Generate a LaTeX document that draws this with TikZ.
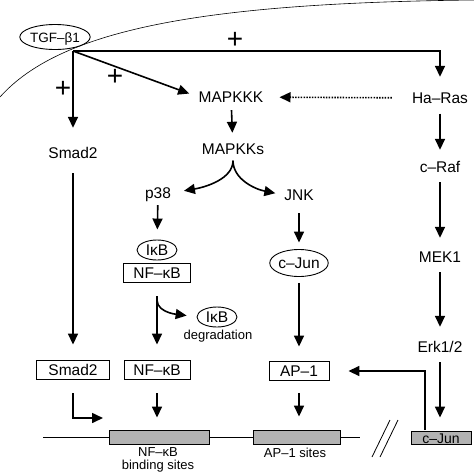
\documentclass[tikz,border=0pt]{standalone}
\usepackage{fontspec}
\setmainfont{Liberation Sans}
\usetikzlibrary{arrows.meta,shapes.geometric}

\begin{document}
\begin{tikzpicture}[x=1pt,y=-1pt,
  lbl/.style={inner sep=0pt,text height=11pt,text depth=0pt,font=\fontsize{15.5}{15.5}\selectfont},
  sml/.style={inner sep=0pt,align=center,font=\fontsize{13}{13}\selectfont},
  oval/.style={lbl,draw,ellipse,line width=0.9pt,minimum width=40pt,minimum height=20pt},
  box/.style={lbl,draw,line width=0.9pt,minimum height=19pt},
  site/.style={draw,fill=black!30,line width=0.9pt,minimum height=14pt,inner sep=0pt},
  arr/.style={line width=1.6pt,-{Triangle[length=11pt,width=10pt]}},
  dotarr/.style={arr,dash pattern=on 1.5pt off 1.3pt},
  plus/.style={inner sep=0pt,font=\fontsize{28}{28}\selectfont}]
\useasboundingbox (0,0) rectangle (474,472);
% membrane
\draw[line width=0.6pt] (0,97) .. controls (60,30) and (200,3) .. (474,0);
\node[oval,fill=white,minimum width=64pt,minimum height=25pt,font=\fontsize{13.5}{13.5}\selectfont] (tgf) at (55,37) {TGF–β1};
\coordinate (j) at (73,51);
% labels
\node[lbl] (smad) at (73,153) {Smad2};
\node[lbl] (mapkkk) at (231,97) {MAPKKK};
\node[lbl] (ras) at (440,98) {Ha–Ras};
\node[lbl] (mapkks) at (233,149) {MAPKKs};
\node[lbl] (p38) at (158,193) {p38};
\node[lbl] (jnk) at (299,195) {JNK};
\node[lbl] (craf) at (440,167) {c–Raf};
\node[lbl] (mek) at (440,257) {MEK1};
\node[lbl] (erk) at (440,347) {Erk1/2};
\node[oval] (ikb) at (157,250) {IκB};
\node[box,minimum width=67pt] (nfkb) at (157,273) {NF–κB};
\node[oval] (ikbdeg) at (217,317) {IκB};
\node[sml] (degr) at (218,336) {degradation};
\node[oval,minimum width=58pt,minimum height=27pt] (cjun) at (299,263) {c–Jun};
\node[box,minimum width=73pt] (smadbox) at (73,370) {Smad2};
\node[box,minimum width=66pt] (nfbox) at (157,370) {NF–κB};
\node[box,minimum width=60pt] (apbox) at (299,371) {AP–1};
% gene
\coordinate (g0) at (43,437);
\coordinate (g1) at (360,437);
\draw[line width=0.8pt] (g0) -- (g1);
\node[site,minimum width=100pt] (nfsite) at (159,437) {};
\node[site,minimum width=87pt] (apsite) at (297,437) {};
\node[site,lbl,text height=10pt,minimum width=60pt,minimum height=13pt,font=\fontsize{14}{14}\selectfont] (cjunbox) at (441,438) {c–Jun};
\node[sml] (nflbl) at (158,460) {NF–κB\\binding sites};
\node[sml] (aplbl) at (295,453) {AP–1 sites};
\draw[line width=0.8pt] (372,457) -- (390,420) (380,457) -- (398,420);
% signs
\node[plus] (p1) at (235,40) {+};
\node[plus] (p2) at (63,89) {+};
\node[plus] (p3) at (115,77) {+};
% arrows
\draw[arr,shorten >=15.5pt] (j) -| (ras);
\draw[arr,shorten >=19.5pt] (j) -- (smad);
\draw[arr,shorten >=10pt] (j) -- (mapkkk.west);
\draw[dotarr,shorten <=20pt,shorten >=16pt] (ras) -- (mapkkk);
\draw[arr,shorten <=7.5pt,shorten >=10.5pt] (mapkkk) -- (mapkks);
\draw[arr,shorten >=13pt] (mapkks.south) ++(0,6) .. controls +(0,18) and +(35,-6) .. (p38.east);
\draw[arr,shorten >=9pt] (mapkks.south) ++(0,6) .. controls +(0,18) and +(-30,-6) .. (jnk.west);
\draw[arr,shorten <=6.5pt,shorten >=10pt] (p38) -- (ikb);
\draw[arr,shorten <=13.5pt,shorten >=15.5pt] (nfkb) -- (nfbox);
\coordinate (split) at (157,300);
\draw[arr,shorten >=10pt] (split) .. controls +(0,14) and +(-14,-2) .. (ikbdeg.west);
\draw[arr,shorten <=12.5pt,shorten >=6.5pt] (jnk) -- (cjun);
\draw[arr,shorten <=6pt,shorten >=14.5pt] (cjun) -- (apbox);
\draw[arr,shorten <=14.5pt,shorten >=15.5pt] (smad) -- (smadbox);
\coordinate (smadend) at (103,418);
\draw[arr,shorten <=13.5pt] (smadbox) |- (smadend);
\draw[arr,shorten <=13.5pt,shorten >=12pt] (nfbox) -- (nfbox |- nfsite.north);
\draw[arr,shorten <=12pt,shorten >=13pt] (apbox) -- (apbox |- apsite.north);
\draw[arr,shorten <=10pt,shorten >=11.5pt] (ras) -- (craf);
\draw[arr,shorten <=9.5pt,shorten >=13.5pt] (craf) -- (mek);
\draw[arr,shorten <=9.5pt,shorten >=14.5pt] (mek) -- (erk);
\draw[arr,shorten <=9.5pt,shorten >=13.5pt] (erk) -- (erk |- cjunbox.north);
\coordinate (junout) at (425,430);
\draw[arr,shorten >=19pt] (junout) |- (apbox);
\end{tikzpicture}
\end{document}
